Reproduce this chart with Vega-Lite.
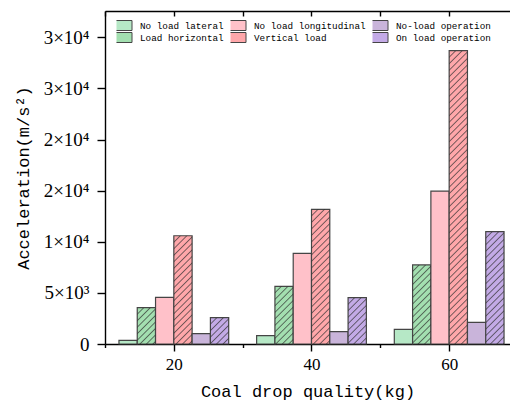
{
  "$schema": "https://vega.github.io/schema/vega-lite/v6.json",
  "autosize": "none",
  "padding": {"left": 105, "top": 11, "right": 0, "bottom": 59},
  "width": 405,
  "height": 333,
  "background": "white",
  "config": {
    "view": {"stroke": null},
    "axis": {
      "domainColor": "black", "tickColor": "black", "labelColor": "black", "titleColor": "black",
      "grid": false, "domainWidth": 1.4, "tickWidth": 1.4, "labelFlush": false, "labelOverlap": false,
      "titleFontWeight": "normal"
    }
  },
  "params": [
    {"name": "hatch", "value": [
      {"offset":0,"color":"#30303000"},
      {"offset":0.016,"color":"#30303000"},{"offset":0.02,"color":"#303030b3"},{"offset":0.024,"color":"#30303000"},
      {"offset":0.036,"color":"#30303000"},{"offset":0.04,"color":"#303030b3"},{"offset":0.044,"color":"#30303000"},
      {"offset":0.056,"color":"#30303000"},{"offset":0.06,"color":"#303030b3"},{"offset":0.064,"color":"#30303000"},
      {"offset":0.076,"color":"#30303000"},{"offset":0.08,"color":"#303030b3"},{"offset":0.084,"color":"#30303000"},
      {"offset":0.096,"color":"#30303000"},{"offset":0.1,"color":"#303030b3"},{"offset":0.104,"color":"#30303000"},
      {"offset":0.116,"color":"#30303000"},{"offset":0.12,"color":"#303030b3"},{"offset":0.124,"color":"#30303000"},
      {"offset":0.136,"color":"#30303000"},{"offset":0.14,"color":"#303030b3"},{"offset":0.144,"color":"#30303000"},
      {"offset":0.156,"color":"#30303000"},{"offset":0.16,"color":"#303030b3"},{"offset":0.164,"color":"#30303000"},
      {"offset":0.176,"color":"#30303000"},{"offset":0.18,"color":"#303030b3"},{"offset":0.184,"color":"#30303000"},
      {"offset":0.196,"color":"#30303000"},{"offset":0.2,"color":"#303030b3"},{"offset":0.204,"color":"#30303000"},
      {"offset":0.216,"color":"#30303000"},{"offset":0.22,"color":"#303030b3"},{"offset":0.224,"color":"#30303000"},
      {"offset":0.236,"color":"#30303000"},{"offset":0.24,"color":"#303030b3"},{"offset":0.244,"color":"#30303000"},
      {"offset":0.256,"color":"#30303000"},{"offset":0.26,"color":"#303030b3"},{"offset":0.264,"color":"#30303000"},
      {"offset":0.276,"color":"#30303000"},{"offset":0.28,"color":"#303030b3"},{"offset":0.284,"color":"#30303000"},
      {"offset":0.296,"color":"#30303000"},{"offset":0.3,"color":"#303030b3"},{"offset":0.304,"color":"#30303000"},
      {"offset":0.316,"color":"#30303000"},{"offset":0.32,"color":"#303030b3"},{"offset":0.324,"color":"#30303000"},
      {"offset":0.336,"color":"#30303000"},{"offset":0.34,"color":"#303030b3"},{"offset":0.344,"color":"#30303000"},
      {"offset":0.356,"color":"#30303000"},{"offset":0.36,"color":"#303030b3"},{"offset":0.364,"color":"#30303000"},
      {"offset":0.376,"color":"#30303000"},{"offset":0.38,"color":"#303030b3"},{"offset":0.384,"color":"#30303000"},
      {"offset":0.396,"color":"#30303000"},{"offset":0.4,"color":"#303030b3"},{"offset":0.404,"color":"#30303000"},
      {"offset":0.416,"color":"#30303000"},{"offset":0.42,"color":"#303030b3"},{"offset":0.424,"color":"#30303000"},
      {"offset":0.436,"color":"#30303000"},{"offset":0.44,"color":"#303030b3"},{"offset":0.444,"color":"#30303000"},
      {"offset":0.456,"color":"#30303000"},{"offset":0.46,"color":"#303030b3"},{"offset":0.464,"color":"#30303000"},
      {"offset":0.476,"color":"#30303000"},{"offset":0.48,"color":"#303030b3"},{"offset":0.484,"color":"#30303000"},
      {"offset":0.496,"color":"#30303000"},{"offset":0.5,"color":"#303030b3"},{"offset":0.504,"color":"#30303000"},
      {"offset":0.516,"color":"#30303000"},{"offset":0.52,"color":"#303030b3"},{"offset":0.524,"color":"#30303000"},
      {"offset":0.536,"color":"#30303000"},{"offset":0.54,"color":"#303030b3"},{"offset":0.544,"color":"#30303000"},
      {"offset":0.556,"color":"#30303000"},{"offset":0.56,"color":"#303030b3"},{"offset":0.564,"color":"#30303000"},
      {"offset":0.576,"color":"#30303000"},{"offset":0.58,"color":"#303030b3"},{"offset":0.584,"color":"#30303000"},
      {"offset":0.596,"color":"#30303000"},{"offset":0.6,"color":"#303030b3"},{"offset":0.604,"color":"#30303000"},
      {"offset":0.616,"color":"#30303000"},{"offset":0.62,"color":"#303030b3"},{"offset":0.624,"color":"#30303000"},
      {"offset":0.636,"color":"#30303000"},{"offset":0.64,"color":"#303030b3"},{"offset":0.644,"color":"#30303000"},
      {"offset":0.656,"color":"#30303000"},{"offset":0.66,"color":"#303030b3"},{"offset":0.664,"color":"#30303000"},
      {"offset":0.676,"color":"#30303000"},{"offset":0.68,"color":"#303030b3"},{"offset":0.684,"color":"#30303000"},
      {"offset":0.696,"color":"#30303000"},{"offset":0.7,"color":"#303030b3"},{"offset":0.704,"color":"#30303000"},
      {"offset":0.716,"color":"#30303000"},{"offset":0.72,"color":"#303030b3"},{"offset":0.724,"color":"#30303000"},
      {"offset":0.736,"color":"#30303000"},{"offset":0.74,"color":"#303030b3"},{"offset":0.744,"color":"#30303000"},
      {"offset":0.756,"color":"#30303000"},{"offset":0.76,"color":"#303030b3"},{"offset":0.764,"color":"#30303000"},
      {"offset":0.776,"color":"#30303000"},{"offset":0.78,"color":"#303030b3"},{"offset":0.784,"color":"#30303000"},
      {"offset":0.796,"color":"#30303000"},{"offset":0.8,"color":"#303030b3"},{"offset":0.804,"color":"#30303000"},
      {"offset":0.816,"color":"#30303000"},{"offset":0.82,"color":"#303030b3"},{"offset":0.824,"color":"#30303000"},
      {"offset":0.836,"color":"#30303000"},{"offset":0.84,"color":"#303030b3"},{"offset":0.844,"color":"#30303000"},
      {"offset":0.856,"color":"#30303000"},{"offset":0.86,"color":"#303030b3"},{"offset":0.864,"color":"#30303000"},
      {"offset":0.876,"color":"#30303000"},{"offset":0.88,"color":"#303030b3"},{"offset":0.884,"color":"#30303000"},
      {"offset":0.896,"color":"#30303000"},{"offset":0.9,"color":"#303030b3"},{"offset":0.904,"color":"#30303000"},
      {"offset":0.916,"color":"#30303000"},{"offset":0.92,"color":"#303030b3"},{"offset":0.924,"color":"#30303000"},
      {"offset":0.936,"color":"#30303000"},{"offset":0.94,"color":"#303030b3"},{"offset":0.944,"color":"#30303000"},
      {"offset":0.956,"color":"#30303000"},{"offset":0.96,"color":"#303030b3"},{"offset":0.964,"color":"#30303000"},
      {"offset":0.976,"color":"#30303000"},{"offset":0.98,"color":"#303030b3"},{"offset":0.984,"color":"#30303000"},
      {"offset":1,"color":"#30303000"}
    ]}
  ],
  "data": {
    "values": [
      {"mass": 20, "series": "No load lateral", "acc": 360},
      {"mass": 20, "series": "Load horizontal", "acc": 3550},
      {"mass": 20, "series": "No load longitudinal", "acc": 4570},
      {"mass": 20, "series": "Vertical load", "acc": 10590},
      {"mass": 20, "series": "No-load operation", "acc": 1010},
      {"mass": 20, "series": "On load operation", "acc": 2580},
      {"mass": 40, "series": "No load lateral", "acc": 815},
      {"mass": 40, "series": "Load horizontal", "acc": 5640},
      {"mass": 40, "series": "No load longitudinal", "acc": 8870},
      {"mass": 40, "series": "Vertical load", "acc": 13170},
      {"mass": 40, "series": "No-load operation", "acc": 1210},
      {"mass": 40, "series": "On load operation", "acc": 4530},
      {"mass": 60, "series": "No load lateral", "acc": 1430},
      {"mass": 60, "series": "Load horizontal", "acc": 7730},
      {"mass": 60, "series": "No load longitudinal", "acc": 14960},
      {"mass": 60, "series": "Vertical load", "acc": 28690},
      {"mass": 60, "series": "No-load operation", "acc": 2120},
      {"mass": 60, "series": "On load operation", "acc": 10990}
    ]
  },
  "layer": [
    {
      "mark": {"type": "bar", "stroke": "#454545", "strokeWidth": 1.2, "opacity": 1},
      "encoding": {
        "x": {
          "field": "mass", "type": "ordinal",
          "scale": {"domain": [20, 40, 60], "range": [0, 413], "paddingInner": 0.2029, "paddingOuter": 0.1014},
          "axis": null
        },
        "xOffset": {
          "field": "series", "type": "nominal",
          "scale": {
            "domain": ["No load lateral", "Load horizontal", "No load longitudinal", "Vertical load", "No-load operation", "On load operation"],
            "paddingInner": 0, "paddingOuter": 0
          }
        },
        "y": {
          "field": "acc", "type": "quantitative",
          "scale": {"domain": [0, 32572], "nice": false, "zero": true},
          "axis": {
            "values": [0, 2500, 5000, 7500, 10000, 12500, 15000, 17500, 20000, 22500, 25000, 27500, 30000],
            "labelExpr": "datum.value % 5000 !== 0 ? '' : datum.value === 0 ? '0' : datum.value === 5000 ? '5×10³' : datum.value === 10000 ? '1×10⁴' : datum.value <= 20000 ? '2×10⁴' : '3×10⁴'",
            "tickSize": {"condition": {"test": "datum.value % 5000 === 0", "value": 8}, "value": 4.5},
            "labelFont": "Liberation Serif", "labelFontSize": 19, "labelPadding": 8,
            "title": "Acceleration(m/s²)", "titleFont": "Liberation Mono", "titleFontSize": 17, "titlePadding": 11
          }
        },
        "color": {
          "field": "series", "type": "nominal",
          "scale": {
            "domain": ["No load lateral", "Load horizontal", "No load longitudinal", "Vertical load", "No-load operation", "On load operation"],
            "range": ["#b6e8c6", "#a3dfb0", "#ffc1c9", "#ffa7aa", "#c9b4da", "#c3aae6"]
          },
          "legend": {
            "title": null, "orient": "none", "legendX": 11.5, "legendY": 9,
            "columns": 3, "columnPadding": 6, "rowPadding": 1, "padding": 0, "clipHeight": 11,
            "symbolType": "M-2,-1H2V1H-2Z", "symbolSize": 100,
            "symbolStrokeColor": "#454545", "symbolStrokeWidth": 1, "symbolOpacity": 1,
            "labelFont": "Liberation Mono", "labelFontSize": 9.3, "labelColor": "black", "labelOffset": 12.5,
            "labelLimit": 300
          }
        }
      }
    },
    {
      "transform": [{"filter": {"field": "series", "oneOf": ["Load horizontal", "Vertical load", "On load operation"]}}],
      "mark": {
        "type": "bar", "strokeWidth": 0,
        "fill": {"expr": "{gradient: 'linear', x1: 0, y1: 0, x2: 5944 / (334.5 + pow(datum.acc * 0.010224, 2)), y2: 325 * datum.acc * 0.010224 / (334.5 + pow(datum.acc * 0.010224, 2)), stops: hatch}"}
      },
      "encoding": {
        "x": {
          "field": "mass", "type": "ordinal",
          "scale": {"domain": [20, 40, 60], "range": [0, 413], "paddingInner": 0.2029, "paddingOuter": 0.1014},
          "axis": null
        },
        "xOffset": {"field": "series", "type": "nominal"},
        "y": {"field": "acc", "type": "quantitative"}
      }
    },
    {
      "mark": {"type": "point", "opacity": 0},
      "encoding": {
        "x": {
          "datum": 20, "type": "quantitative",
          "scale": {"domain": [10, 68.84], "nice": false, "zero": false},
          "axis": {
            "orient": "bottom",
            "values": [10, 20, 30, 40, 50, 60],
            "labelExpr": "datum.value % 20 === 0 ? datum.label : ''",
            "tickSize": {"condition": {"test": "datum.value % 20 === 0", "value": 7}, "value": 3.5},
            "labelFont": "Liberation Serif", "labelFontSize": 17, "labelPadding": 5,
            "title": "Coal drop quality(kg)", "titleFont": "Liberation Mono", "titleFontSize": 17, "titlePadding": 11
          }
        }
      }
    },
    {
      "mark": {"type": "point", "opacity": 0},
      "encoding": {
        "x": {
          "datum": 20, "type": "quantitative",
          "scale": {"domain": [10, 68.84], "nice": false, "zero": false},
          "axis": {
            "orient": "top",
            "values": [10, 20, 30, 40, 50, 60],
            "tickSize": -5, "labels": false, "title": null
          }
        }
      }
    }
  ],
  "resolve": {"scale": {"x": "independent"}}
}
